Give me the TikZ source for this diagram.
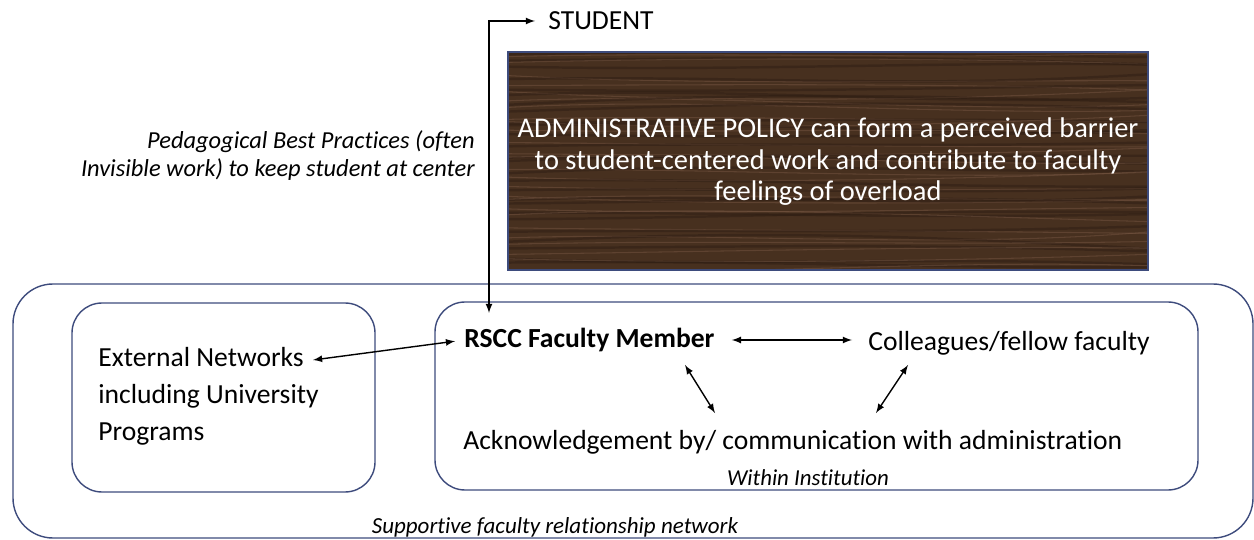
\documentclass[tikz,border=0pt]{standalone}
\usepackage{fontspec}
\setmainfont{Carlito}[Ligatures=NoCommon]
\usetikzlibrary{positioning}

\definecolor{boxblue}{HTML}{3D4B7C}
\definecolor{wood}{HTML}{47301F}
\definecolor{woodlight}{HTML}{7A5A46}
\definecolor{wooddark}{HTML}{2C1C12}

\begin{document}
\begin{tikzpicture}[x=0.02cm,y=-0.02cm,
  box/.style={draw=boxblue, line width=0.8pt},
  txt/.style={inner sep=0pt, font=\fontsize{15.7}{21}\selectfont},
  note/.style={inner sep=0pt, font=\fontsize{13.9}{16}\selectfont\itshape},
  link/.style={latex-latex, line width=0.8pt}]
\useasboundingbox (0,0) rectangle (1254,540);

% wooden policy board
\begin{scope}
\clip (508,52) rectangle (1148,270);
\fill[wood] (508,52) rectangle (1148,270);
\pgfmathsetseed{11}
\foreach \i in {0,...,26} {
	\pgfmathsetmacro\yy{48+8.5*\i+4*rand}
	\pgfmathsetmacro\da{14*rand}
	\pgfmathsetmacro\db{14*rand}
	\pgfmathsetmacro\dc{8*rand}
	\draw[woodlight, opacity=0.45, line width=0.6pt] (500,\yy) .. controls (700,\yy+\da) and (950,\yy+\db) .. (1160,\yy+\dc);
	\draw[wooddark, opacity=0.45, line width=1.4pt] (500,\yy+4) .. controls (750,\yy+4-\db) and (900,\yy+4+\da) .. (1160,\yy+4-\dc);
}
\end{scope}
\draw[boxblue, line width=0.6pt] (508,52) rectangle (1148,270);
\node[txt, text=white, align=center, font=\fontsize{16.2}{17.9}\selectfont] (policy) at (828,162)
	{ADMINISTRATIVE POLICY can form a perceived barrier\\to student-centered work and contribute to faculty\\feelings of overload};

% network boxes
\draw[box, rounded corners=0.8cm] (13,284) rectangle (1253,538);
\draw[box, rounded corners=0.6cm] (72,303) rectangle (375,492);
\draw[box, rounded corners=0.6cm] (435,302) rectangle (1198,490);

\node[txt, anchor=west] (student) at (548,21) {STUDENT};
\node[note, anchor=east, align=right] (pedagogy) at (475,156)
	{Pedagogical Best Practices (often\\Invisible work) to keep student at center};

\node[txt, anchor=west, align=left] (external) at (98,396)
	{External Networks\\including University\\Programs};
\node[txt, anchor=west, font=\fontsize{15.7}{21}\selectfont\bfseries] (rscc) at (464,340) {RSCC Faculty Member};
\node[txt, anchor=west] (colleagues) at (868,343) {Colleagues/fellow faculty};
\node[txt, anchor=west] (admin) at (463,442) {Acknowledgement by/ communication with administration};
\node[note, font=\fontsize{13}{15}\selectfont\itshape] (within) at (808,478) {Within Institution};
\node[note, font=\fontsize{13.1}{15}\selectfont\itshape] (support) at (555,527) {Supportive faculty relationship network};

% connectors
\coordinate (intoBox) at (489,313);
\coordinate (extEnd) at (313,360);
\coordinate (rsccLow) at (685,365);
\coordinate (adminL) at (715,413);
\coordinate (collLow) at (908,365);
\coordinate (adminR) at (876,413);

\draw[link, shorten <=0.26cm] (student.west) -| (intoBox);
\draw[link, shorten >=0.18cm] (extEnd) -- (rscc.west);
\draw[link, shorten <=0.34cm, shorten >=0.32cm] (rscc.east) -- (rscc.east -| colleagues.west);
\draw[link] (rsccLow) -- (adminL);
\draw[link] (collLow) -- (adminR);
\end{tikzpicture}
\end{document}
